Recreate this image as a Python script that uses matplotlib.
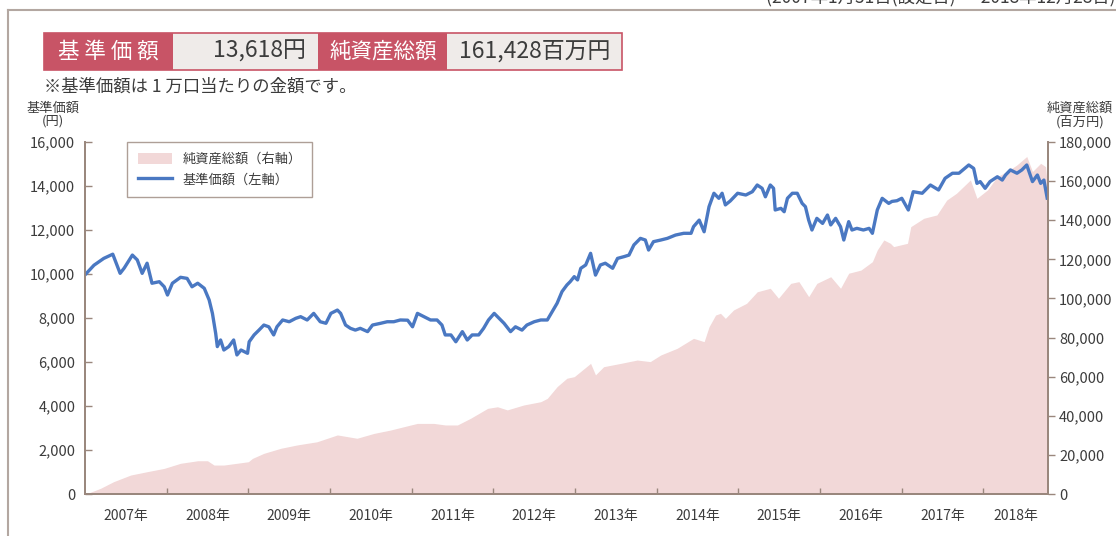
import matplotlib
matplotlib.use("Agg")
import matplotlib.pyplot as plt
from matplotlib.patches import Rectangle
from matplotlib.lines import Line2D
from matplotlib.ticker import FuncFormatter

plt.rcParams['font.family'] = ['Noto Sans CJK JP', 'DejaVu Sans']

# 基準価額 (円) : time in decimal years
nav_t = [2007.01, 2007.11, 2007.23, 2007.34, 2007.43, 2007.48, 2007.58, 2007.64, 2007.70, 2007.76,
         2007.82, 2007.91, 2007.97, 2008.01, 2008.07, 2008.17, 2008.25, 2008.31, 2008.38, 2008.46,
         2008.52, 2008.56, 2008.60, 2008.62, 2008.66, 2008.70, 2008.76, 2008.82, 2008.86, 2008.91,
         2008.99, 2009.01, 2009.07, 2009.13, 2009.19, 2009.25, 2009.31, 2009.35, 2009.42, 2009.50,
         2009.58, 2009.64, 2009.72, 2009.80, 2009.88, 2009.95, 2010.01, 2010.09, 2010.13, 2010.19,
         2010.25, 2010.31, 2010.37, 2010.46, 2010.52, 2010.62, 2010.70, 2010.78, 2010.86, 2010.95,
         2011.01, 2011.07, 2011.15, 2011.23, 2011.31, 2011.37, 2011.41, 2011.48, 2011.54, 2011.62,
         2011.68, 2011.74, 2011.82, 2011.88, 2011.94, 2012.01, 2012.07, 2012.13, 2012.21, 2012.27,
         2012.35, 2012.41, 2012.50, 2012.58, 2012.66, 2012.72, 2012.78, 2012.84, 2012.90, 2012.94,
         2012.99, 2013.03, 2013.07, 2013.13, 2013.19, 2013.25, 2013.31, 2013.37, 2013.46, 2013.52,
         2013.60, 2013.66, 2013.72, 2013.80, 2013.86, 2013.90, 2013.96, 2014.05, 2014.13, 2014.23,
         2014.33, 2014.42, 2014.45, 2014.52, 2014.58, 2014.64, 2014.70, 2014.76, 2014.80, 2014.84,
         2014.90, 2014.99, 2015.09, 2015.17, 2015.23, 2015.29, 2015.33, 2015.39, 2015.43, 2015.45,
         2015.52, 2015.56, 2015.60, 2015.66, 2015.72, 2015.78, 2015.82, 2015.86, 2015.90, 2015.96,
         2016.03, 2016.09, 2016.13, 2016.19, 2016.25, 2016.29, 2016.35, 2016.39, 2016.45, 2016.53,
         2016.60, 2016.64, 2016.70, 2016.76, 2016.84, 2016.88, 2016.94, 2017.00, 2017.08, 2017.14,
         2017.25, 2017.35, 2017.45, 2017.53, 2017.62, 2017.70, 2017.82, 2017.88, 2017.92, 2017.96,
         2018.02, 2018.08, 2018.17, 2018.23, 2018.27, 2018.33, 2018.41, 2018.47, 2018.53, 2018.60,
         2018.66, 2018.70, 2018.74, 2018.78]
nav_v = [10000, 10400, 10710, 10900, 10030, 10270, 10860, 10640, 10030, 10490,
         9580, 9650, 9420, 9045, 9580, 9850, 9800, 9420, 9580, 9350,
         8820, 8210, 7300, 6700, 7000, 6545, 6700, 7000, 6320, 6545,
         6395, 6920, 7230, 7450, 7680, 7600, 7230, 7600, 7910, 7830,
         7985, 8060, 7910, 8210, 7830, 7760, 8210, 8360, 8210, 7680,
         7530, 7450, 7530, 7380, 7680, 7760, 7830, 7830, 7910, 7900,
         7600, 8210, 8060, 7910, 7910, 7680, 7230, 7230, 6920, 7380,
         7000, 7230, 7230, 7530, 7910, 8210, 7985, 7760, 7380, 7600,
         7450, 7680, 7830, 7910, 7910, 8290, 8670, 9200, 9500, 9650,
         9880, 9730, 10260, 10410, 10940, 9950, 10410, 10490, 10260, 10710,
         10790, 10860, 11320, 11620, 11545, 11090, 11470, 11545, 11620, 11770,
         11850, 11850, 12150, 12450, 11920, 13060, 13670, 13440, 13670, 13140,
         13320, 13670, 13590, 13740, 14045, 13895, 13510, 14045, 13895, 12910,
         12985, 12830, 13440, 13670, 13670, 13210, 13060, 12450, 12000, 12530,
         12300, 12680, 12230, 12530, 12150, 11545, 12380, 12000, 12075, 12000,
         12075, 11850, 12910, 13440, 13210, 13300, 13330, 13440, 12910, 13740,
         13670, 14045, 13820, 14350, 14580, 14580, 14955, 14800, 14120, 14200,
         13895, 14200, 14420, 14270, 14500, 14730, 14580, 14730, 14955, 14200,
         14500, 14120, 14270, 13450]

# 純資産総額 (百万円)
na_t = [2007.01, 2007.19, 2007.35, 2007.56, 2007.76, 2007.97, 2008.17, 2008.38, 2008.50, 2008.58,
        2008.70, 2008.86, 2009.00, 2009.05, 2009.19, 2009.40, 2009.60, 2009.84, 2010.09, 2010.33,
        2010.54, 2010.74, 2010.99, 2011.07, 2011.27, 2011.41, 2011.56, 2011.72, 2011.93, 2012.05,
        2012.17, 2012.37, 2012.58, 2012.66, 2012.78, 2012.90, 2012.99, 2013.19, 2013.25, 2013.35,
        2013.56, 2013.76, 2013.92, 2014.05, 2014.25, 2014.45, 2014.58, 2014.64, 2014.72, 2014.78,
        2014.84, 2014.94, 2015.10, 2015.23, 2015.39, 2015.49, 2015.64, 2015.74, 2015.86, 2015.96,
        2016.13, 2016.25, 2016.35, 2016.50, 2016.64, 2016.70, 2016.78, 2016.86, 2016.90, 2017.07,
        2017.11, 2017.27, 2017.43, 2017.55, 2017.67, 2017.84, 2017.92, 2018.05, 2018.17, 2018.29,
        2018.41, 2018.53, 2018.60, 2018.70, 2018.76, 2018.79]
na_v = [0, 2900, 6300, 9700, 11400, 13100, 15700, 17000, 17000, 14800,
        14800, 15700, 16500, 18200, 20800, 23400, 25100, 26700, 30200, 28500,
        31000, 32700, 35300, 36100, 36100, 35300, 35300, 38700, 43800, 44600,
        43000, 45500, 47200, 48900, 54900, 59200, 60000, 66800, 60900, 65100,
        66800, 68500, 67700, 71100, 74500, 79600, 77900, 85500, 91500, 92400,
        89800, 94100, 97500, 103400, 105200, 100100, 107700, 108600, 100900, 107700,
        111100, 105200, 112900, 114500, 118800, 124800, 129900, 128200, 126500, 128200,
        136700, 141000, 142700, 150300, 153800, 160600, 151200, 155500, 162300, 164900,
        168300, 172600, 164900, 169100, 167400, 155000]

years = list(range(2007, 2019))
year_labels = [f"{y}年" for y in years]

RED = "#c85466"
GREY_BOX = "#efebe9"
BLUE = "#4a78c2"
PINK = "#f2d8d8"
AXC = "#9a877d"
TXT = "#3c3c3c"

W, H = 1116, 536
fig = plt.figure(figsize=(W / 100, H / 100), dpi=100)


def fx(x):
    return x / W


def fy(y):
    return 1 - y / H


# outer frame
fig.add_artist(Line2D([fx(8), 1.0], [fy(10), fy(10)], color="#b3a7a1", lw=1.5))
fig.add_artist(Line2D([fx(8), fx(8)], [fy(10), 0], color="#b3a7a1", lw=1.5))
fig.text(fx(1116), fy(-3), "(2007年1月31日(設定日) ～ 2018年12月28日)", ha="right", va="center",
         fontsize=12.5, color=TXT)

# header boxes
boxes = [(44, 173, RED), (173, 318, GREY_BOX), (318, 447, RED), (447, 622, GREY_BOX)]
for x0, x1, c in boxes:
    fig.add_artist(Rectangle((fx(x0), fy(70)), fx(x1 - x0), (70 - 33) / H,
                             transform=fig.transFigure, facecolor=c, edgecolor="none"))
fig.add_artist(Rectangle((fx(44), fy(70)), fx(622 - 44), (70 - 33) / H,
                         transform=fig.transFigure, facecolor="none", edgecolor=RED, lw=1.2))
fig.text(fx(108), fy(51.5), "基 準 価 額", ha="center", va="center", fontsize=15.5,
         color="white")
fig.text(fx(306), fy(51.5), "13,618円", ha="right", va="center", fontsize=16.5, color=TXT)
fig.text(fx(383), fy(51.5), "純資産総額", ha="center", va="center", fontsize=15.5,
         color="white")
fig.text(fx(610), fy(51.5), "161,428百万円", ha="right", va="center", fontsize=16.5, color=TXT)
fig.text(fx(44), fy(87), "※基準価額は 1 万口当たりの金額です。", ha="left", va="center",
         fontsize=12.5, color=TXT)

# axis captions
fig.text(fx(53), fy(115), "基準価額\n(円)", ha="center", va="center", fontsize=9.5,
         color=TXT, linespacing=1.0)
fig.text(fx(1080), fy(115), "純資産総額\n(百万円)", ha="center", va="center", fontsize=9.5,
         color=TXT, linespacing=1.0)

ax = fig.add_axes([fx(85), fy(494), fx(1048 - 85), (494 - 142) / H])
ax2 = ax.twinx()
ax.set_zorder(ax2.get_zorder() + 1)
ax.patch.set_visible(False)

ax2.fill_between(na_t, na_v, 0, color=PINK, lw=0)
ax.plot(nav_t, nav_v, color=BLUE, lw=2.4, solid_joinstyle="round")

ax.set_xlim(2007.0, 2018.79)
ax.set_ylim(0, 16000)
ax2.set_ylim(0, 180000)
ax.set_yticks(range(0, 16001, 2000))
ax2.set_yticks(range(0, 180001, 20000))
fmt = FuncFormatter(lambda v, p: f"{int(v):,}")
ax.yaxis.set_major_formatter(fmt)
ax2.yaxis.set_major_formatter(fmt)

ax.set_xticks(years[1:])
ax.set_xticklabels([])
ax.set_xticks([y + 0.5 for y in years[:-1]] + [2018.40], minor=True)
ax.set_xticklabels(year_labels, minor=True)
ax.tick_params(axis="x", which="major", direction="in", length=4, color=AXC, width=1)
ax.tick_params(axis="x", which="minor", length=0, pad=11, labelsize=10, labelcolor=TXT)
ax.tick_params(axis="y", direction="in", length=5, color=AXC, width=1, labelsize=10.5,
               labelcolor=TXT, pad=7)
ax2.tick_params(axis="y", direction="out", length=5, color=AXC, width=1, labelsize=10.5,
                labelcolor=TXT, pad=3)

for a in (ax, ax2):
    for s in a.spines.values():
        s.set_color(AXC)
        s.set_linewidth(1.3)
    a.spines["top"].set_visible(False)

handles = [Rectangle((0, 0), 1, 1, facecolor=PINK, edgecolor="none"),
           Line2D([0], [0], color=BLUE, lw=2.4)]
leg = fig.legend(handles, ["純資産総額（右軸）", "基準価額（左軸）"], loc="upper left",
                 bbox_to_anchor=(fx(127), fy(142)), frameon=True, fancybox=False,
                 fontsize=9.5, labelcolor=TXT, handlelength=2.6, handleheight=1.0,
                 borderpad=0.8, labelspacing=0.55, borderaxespad=0)
leg.get_frame().set_edgecolor(AXC)
leg.get_frame().set_linewidth(1.0)

fig.savefig("out.png", dpi=100)
